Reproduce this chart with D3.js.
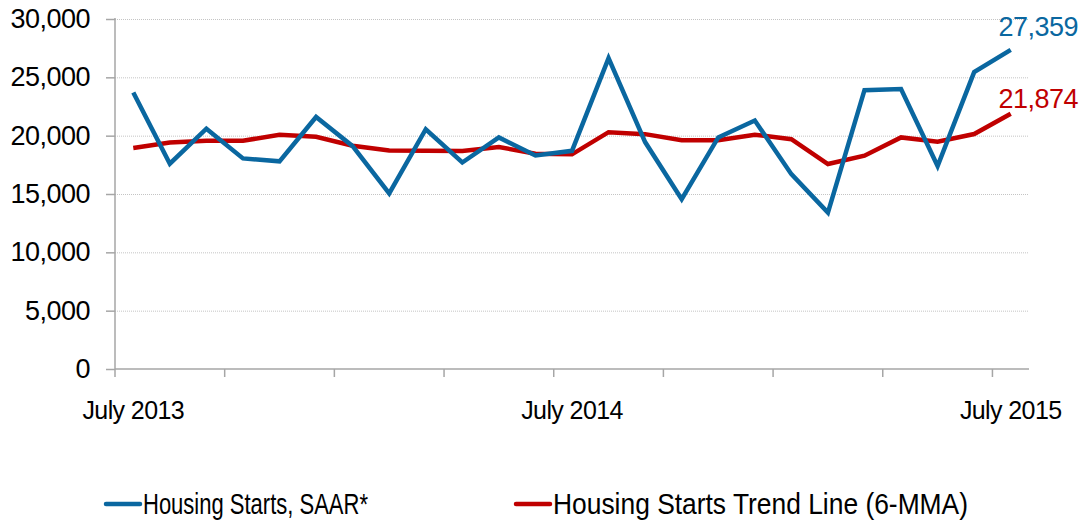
<!DOCTYPE html>
<html>
<head>
<meta charset="utf-8">
<script src="https://cdn.jsdelivr.net/npm/d3@7"></script>
<style>
  html, body { margin: 0; padding: 0; background: #fff; }
  svg { display: block; font-family: "Liberation Sans", Arial, sans-serif; }
</style>
</head>
<body>
<svg id="chart" width="1089" height="525"></svg>
<script>
const months = ["Jul 2013","Aug 2013","Sep 2013","Oct 2013","Nov 2013","Dec 2013",
  "Jan 2014","Feb 2014","Mar 2014","Apr 2014","May 2014","Jun 2014",
  "Jul 2014","Aug 2014","Sep 2014","Oct 2014","Nov 2014","Dec 2014",
  "Jan 2015","Feb 2015","Mar 2015","Apr 2015","May 2015","Jun 2015","Jul 2015"];
const housingStarts = [23700, 17600, 20600, 18050, 17800, 21600, 19100, 15050, 20550, 17700,
  19850, 18300, 18700, 26650, 19450, 14550, 19850, 21300, 16700, 13400,
  23900, 24000, 17400, 25450, 27359];
const trendLine = [18950, 19420, 19560, 19560, 20080, 19900, 19140, 18730, 18710, 18690,
  19030, 18450, 18400, 20300, 20130, 19600, 19600, 20080, 19700, 17570,
  18280, 19850, 19480, 20140, 21874];
const yTicks = [0, 5000, 10000, 15000, 20000, 25000, 30000];
const xLabelMonths = ["Jul 2013", "Jul 2014", "Jul 2015"];
const xLabelText = ["July 2013", "July 2014", "July 2015"];
const seriesNames = ["Housing Starts, SAAR*", "Housing Starts Trend Line (6-MMA)"];
const seriesColors = ["#0a67a0", "#c00000"];

(function () {
const svg = d3.select("#chart");
const pL = 115, pR = 1029, pT = 19, pB = 369;

const x = d3.scaleBand().domain(months).range([pL, pR]).paddingInner(0).paddingOuter(0);
const y = d3.scaleLinear().domain([0, 30000]).range([pB, pT]);
const cx = d => x(d) + x.bandwidth() / 2;

// gridlines
svg.append("g").selectAll("line").data(yTicks.filter(t => t > 0)).join("line")
  .attr("x1", pL).attr("x2", pR)
  .attr("y1", d => y(d) + 0.5).attr("y2", d => y(d) + 0.5)
  .attr("stroke", "#c4c4c4").attr("stroke-width", 1).attr("stroke-dasharray", "1,1");

// y axis
const yAxis = svg.append("g").attr("transform", `translate(${pL},0)`)
  .call(d3.axisLeft(y).tickValues(yTicks).tickSize(9).tickPadding(16).tickFormat(d3.format(",")));
yAxis.select(".domain").attr("stroke", "#a6a6a6").attr("stroke-width", 1.5)
  .attr("d", `M0,${pT - 1}V${pB}`);
yAxis.selectAll(".tick line").attr("stroke", "#a6a6a6").attr("stroke-width", 1.5);
yAxis.selectAll(".tick text").attr("font-size", 27).attr("fill", "#000")
  .attr("letter-spacing", "-0.5").attr("font-family", "Liberation Sans, Arial, sans-serif");

// x axis
const xTickMonths = months.filter((m, i) => i % 3 === 0);
const xg = svg.append("g");
xg.append("line").attr("x1", pL).attr("x2", pR).attr("y1", pB).attr("y2", pB)
  .attr("stroke", "#a6a6a6").attr("stroke-width", 1.5);
xg.selectAll("line.tk").data(xTickMonths).join("line").attr("class", "tk")
  .attr("x1", d => x(d)).attr("x2", d => x(d))
  .attr("y1", pB).attr("y2", pB + 8)
  .attr("stroke", "#a6a6a6").attr("stroke-width", 1.5);
xg.selectAll("text").data(xLabelMonths).join("text")
  .attr("x", d => cx(d)).attr("y", 419)
  .attr("text-anchor", "middle").attr("font-size", 25).attr("letter-spacing", "-0.6")
  .attr("fill", "#000")
  .text((d, i) => xLabelText[i]);

// lines
const line = d3.line().x((d, i) => cx(months[i])).y(d => y(d)).curve(d3.curveLinear);
[trendLine, housingStarts].forEach((s, k) => {
  const color = k === 0 ? seriesColors[1] : seriesColors[0];
  svg.append("path").datum(s).attr("d", line)
    .attr("fill", "none").attr("stroke", color).attr("stroke-width", 4.5)
    .attr("stroke-linejoin", "miter").attr("stroke-linecap", "butt");
});

// end labels
svg.append("text").attr("x", 1078).attr("y", 36).attr("text-anchor", "end")
  .attr("font-size", 27).attr("letter-spacing", "-0.5").attr("fill", seriesColors[0])
  .text(d3.format(",")(housingStarts[housingStarts.length - 1]));
svg.append("text").attr("x", 1078).attr("y", 108).attr("text-anchor", "end")
  .attr("font-size", 27).attr("letter-spacing", "-0.5").attr("fill", seriesColors[1])
  .text(d3.format(",")(trendLine[trendLine.length - 1]));

// legend
const legendItems = [
  {x0: 106, x1: 140, tx: 143, tw: 225},
  {x0: 516, x1: 550, tx: 553, tw: 415}
];
const lg = svg.append("g");
legendItems.forEach((it, i) => {
  lg.append("line").attr("x1", it.x0).attr("x2", it.x1).attr("y1", 504).attr("y2", 504)
    .attr("stroke", seriesColors[i]).attr("stroke-width", 4.5).attr("stroke-linecap", "round");
  lg.append("text").attr("x", it.tx).attr("y", 514).attr("font-size", 29).attr("fill", "#000")
    .attr("textLength", it.tw).attr("lengthAdjust", "spacingAndGlyphs")
    .text(seriesNames[i]);
});
})();
</script>
</body>
</html>
